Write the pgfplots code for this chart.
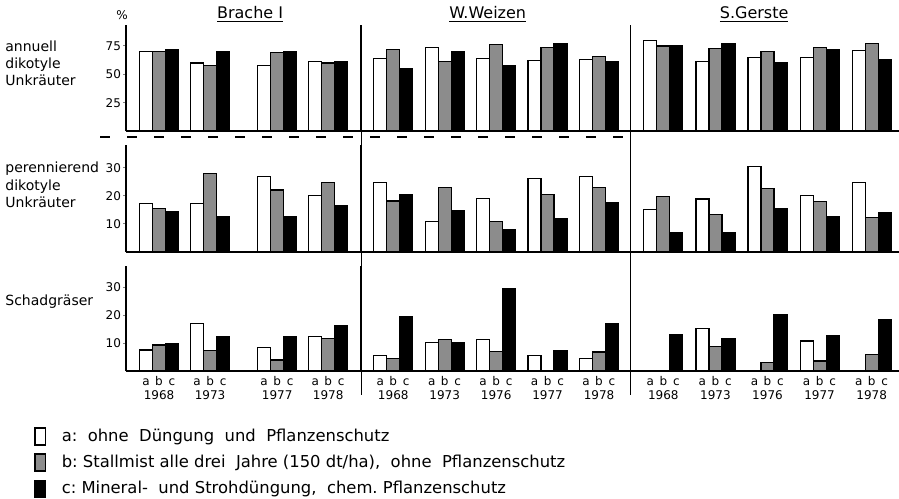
\documentclass[border=0pt]{standalone}
\usepackage{pgfplots}
\pgfplotsset{compat=1.18}
\usepackage{fontspec}
\setmainfont{DejaVu Sans}
\newcommand{\abc}{\makebox[6.5pt]{a}\makebox[6.5pt]{b}\makebox[6.5pt]{c}}
\pgfplotsset{
  every axis title/.style={at={(0.5,1)}, anchor=south, inner sep=1pt, font=\fontsize{8}{9}\selectfont},
  panel/.style={scale only axis, anchor=south west, clip=false,
    axis x line=bottom, axis y line=left, axis line style={-, line width=0.7pt},
    ymin=0, ybar, bar width=6.5pt, xtick=\empty, ytick=\empty,
    /pgf/number format/assume math mode=true,
    tick label style={font=\fontsize{6}{7}\selectfont},
    yticklabel style={inner sep=0.8pt},
    major tick length=1.5pt, tick align=outside, tick style={line width=0.5pt}},
  bra/.style={panel, width=117.5pt, xmin=-0.647, xmax=3.957},
  wei/.style={panel, width=134.85pt, xmin=-0.627, xmax=4.616},
  ger/.style={panel, width=134.15pt, xmin=-0.626, xmax=4.524},
  r1/.style={height=53pt, ymax=93.5},
  r2/.style={height=53.5pt, ymax=38.2},
  r3/.style={height=52.5pt, ymax=37.5},
  xlab/.style={xticklabel style={align=center, font=\fontsize{6}{7}\selectfont, inner sep=1pt}, major x tick style={draw=none}},
  ba/.style={draw=black, fill=white, line width=0.6pt, bar shift=-6.5pt},
  bb/.style={draw=black, fill=black!45, line width=0.6pt, bar shift=0pt},
  bc/.style={draw=black, fill=black, line width=0.6pt, bar shift=6.5pt},
}
\begin{document}
\begin{tikzpicture}
\path[use as bounding box] (0pt,0pt) rectangle (449.5pt,-249pt);

% ---------------- Row 1: annuell dikotyle Unkraeuter
\begin{axis}[bra, r1, at={(63pt,-65.5pt)}, ytick={25,50,75},
  title={\underline{Brache I}}, title style={at={(0.528,1)}}]
\addplot[ba] coordinates {(0,70) (1,60) (2.314,58) (3.314,61)};
\addplot[bb] coordinates {(0,70) (1,58) (2.314,69) (3.314,60)};
\addplot[bc] coordinates {(0,72) (1,70) (2.314,70) (3.314,61)};
\end{axis}
\begin{axis}[wei, r1, at={(180.5pt,-65.5pt)},
  title={\underline{W.Weizen}}, title style={at={(0.47,1)}}]
\addplot[ba] coordinates {(0,64) (1,74) (2,64) (3,62) (4,63)};
\addplot[bb] coordinates {(0,72) (1,61) (2,76) (3,74) (4,66)};
\addplot[bc] coordinates {(0,55) (1,70) (2,58) (3,77) (4,61)};
\end{axis}
\begin{axis}[ger, r1, at={(315.35pt,-65.5pt)},
  title={\underline{S.Gerste}}, title style={at={(0.46,1)}}]
\addplot[ba] coordinates {(0,80) (1,61) (2,65) (3,65) (4,71)};
\addplot[bb] coordinates {(0,75) (1,73) (2,70) (3,74) (4,77)};
\addplot[bc] coordinates {(0,75) (1,77) (2,60) (3,72) (4,63)};
\end{axis}

% ---------------- Row 2: perennierend dikotyle Unkraeuter
\begin{axis}[bra, r2, at={(63pt,-126pt)}, ytick={10,20,30}]
\addplot[ba] coordinates {(0,17.4) (1,17.4) (2.314,26.9) (3.314,20.1)};
\addplot[bb] coordinates {(0,15.6) (1,28.1) (2.314,22.1) (3.314,24.9)};
\addplot[bc] coordinates {(0,14.6) (1,12.6) (2.314,12.6) (3.314,16.4)};
\end{axis}
\begin{axis}[wei, r2, at={(180.5pt,-126pt)}]
\addplot[ba] coordinates {(0,24.8) (1,10.8) (2,19.2) (3,26.1) (4,26.9)};
\addplot[bb] coordinates {(0,18.2) (1,23.1) (2,10.8) (3,20.4) (4,23.1)};
\addplot[bc] coordinates {(0,20.4) (1,14.8) (2,8.1) (3,11.8) (4,17.8)};
\end{axis}
\begin{axis}[ger, r2, at={(315.35pt,-126pt)}]
\addplot[ba] coordinates {(0,15.1) (1,18.9) (2,30.5) (3,20.2) (4,24.9)};
\addplot[bb] coordinates {(0,19.8) (1,13.3) (2,22.8) (3,18.0) (4,12.3)};
\addplot[bc] coordinates {(0,7.0) (1,7.0) (2,15.4) (3,12.7) (4,13.9)};
\end{axis}

% ---------------- Row 3: Schadgraeser
\begin{axis}[bra, r3, xlab, at={(63pt,-185.5pt)}, ytick={10,20,30},
  xtick={0,1,2.314,3.314},
  xticklabels={{\abc\\1968},{\abc\\1973},{\abc\\1977},{\abc\\1978}},
  legend image code/.code={\draw[#1] (0pt,-4.2pt) rectangle (5.2pt,4.2pt); \path (11.5pt,0pt);},
  legend style={at={(axis description cs:-0.417,-0.48)}, anchor=north west,
    draw=none, fill=none, font=\fontsize{8.2}{9}\selectfont, row sep=2.3pt,
    nodes={inner sep=1.5pt}},
  legend cell align=left]
\addplot[ba, forget plot] coordinates {(0,7.5) (1,17.1) (2.314,8.4) (3.314,12.4)};
\addplot[bb, forget plot] coordinates {(0,9.3) (1,7.2) (2.314,3.9) (3.314,11.7)};
\addplot[bc, forget plot] coordinates {(0,9.9) (1,12.4) (2.314,12.4) (3.314,16.2)};
\addlegendimage{draw=black, fill=white, line width=0.7pt}
\addlegendentry{a:\ \ ohne\ \ Düngung\ \ und\ \ Pflanzenschutz}
\addlegendimage{draw=black, fill=black!45, line width=0.7pt}
\addlegendentry{b:\ Stallmist\ alle\ drei\ \ Jahre\ (150 dt/ha),\ \ ohne\ \ Pflanzenschutz}
\addlegendimage{draw=black, fill=black, line width=0.7pt}
\addlegendentry{c:\ Mineral-\ \ und\ Strohdüngung,\ \ chem.\ Pflanzenschutz}
\end{axis}
\begin{axis}[wei, r3, xlab, at={(180.5pt,-185.5pt)},
  xtick={0,1,2,3,4},
  xticklabels={{\abc\\1968},{\abc\\1973},{\abc\\1976},{\abc\\1977},{\abc\\1978}}]
\addplot[ba] coordinates {(0,5.4) (1,10.2) (2,11.2) (3,5.6) (4,4.6)};
\addplot[bb] coordinates {(0,4.4) (1,11.2) (2,7.1) (4,6.8)};
\addplot[bc] coordinates {(0,19.6) (1,10.2) (2,29.6) (3,7.4) (4,17.1)};
\end{axis}
\begin{axis}[ger, r3, xlab, at={(315.35pt,-185.5pt)},
  xtick={0,1,2,3,4},
  xticklabels={{\abc\\1968},{\abc\\1973},{\abc\\1976},{\abc\\1977},{\abc\\1978}}]
\addplot[ba] coordinates {(1,15.1) (3,10.7)};
\addplot[bb] coordinates {(1,8.7) (2,3.0) (3,3.6) (4,6.0)};
\addplot[bc] coordinates {(0,13.1) (1,11.5) (2,20.0) (3,12.5) (4,18.5)};
\end{axis}

% separators, break line and labels
\draw[line width=0.5pt] (180.5pt,-12.5pt) -- (180.5pt,-197.5pt);
\draw[line width=0.5pt] (315.35pt,-12.5pt) -- (315.35pt,-197.5pt);
\draw[line width=0.9pt, dash pattern=on 5pt off 8.5pt] (50pt,-68.5pt) -- (314pt,-68.5pt);
\node[font=\fontsize{6}{7}\selectfont, inner sep=0pt] at (61pt,-7.5pt) {\%};
\node[anchor=west, align=left, inner sep=0pt, font=\fontsize{7}{8.5}\selectfont] at (2.5pt,-31.5pt) {annuell\\dikotyle\\Unkräuter};
\node[anchor=west, align=left, inner sep=0pt, font=\fontsize{7}{8.8}\selectfont] at (2.5pt,-92.5pt) {perennierend\\dikotyle\\Unkräuter};
\node[anchor=west, align=left, inner sep=0pt, font=\fontsize{7}{8.5}\selectfont] at (2.5pt,-151pt) {Schadgräser};
\end{tikzpicture}
\end{document}
